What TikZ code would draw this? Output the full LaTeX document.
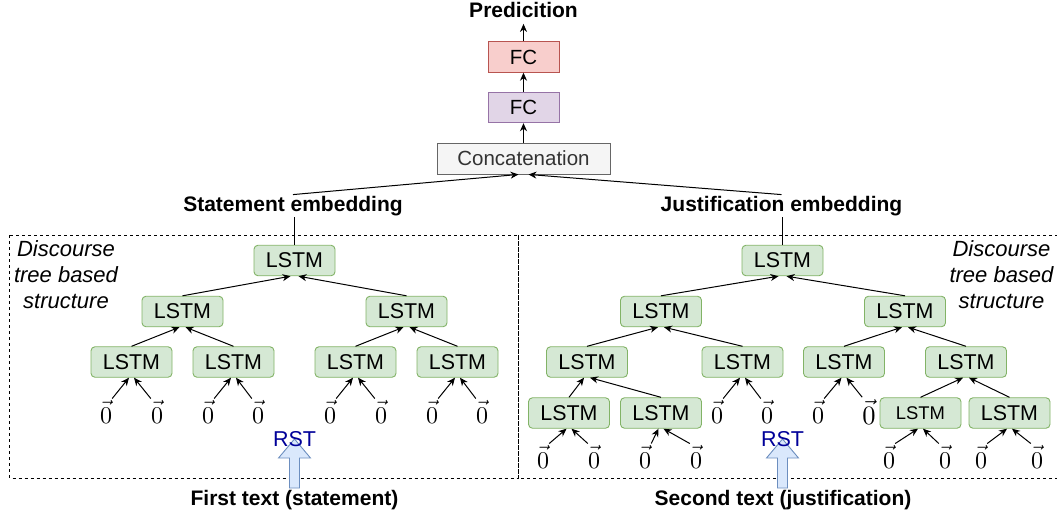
\documentclass[tikz,border=0pt]{standalone}
\usepackage{graphicx}
\usepackage[no-math]{fontspec}
\setmainfont{Liberation Sans}
\usetikzlibrary{arrows.meta}
\definecolor{lstmfill}{HTML}{D5E8D4}
\definecolor{lstmdraw}{HTML}{82B366}
\definecolor{redfill}{HTML}{F8CECC}
\definecolor{reddraw}{HTML}{B85450}
\definecolor{purfill}{HTML}{E1D5E7}
\definecolor{purdraw}{HTML}{9673A6}
\definecolor{catfill}{HTML}{F5F5F5}
\definecolor{catdraw}{HTML}{666666}
\definecolor{cattext}{HTML}{333333}
\definecolor{rstblue}{HTML}{000099}
\definecolor{arrfill}{HTML}{DAE8FC}
\definecolor{arrdraw}{HTML}{6C8EBF}
% zero vector at a given magnification of the 10pt math font
\newcommand\zerovec[1]{\scalebox{#1}{$\vec{0}$}}

\begin{document}
\begin{tikzpicture}[x=1pt,y=-1pt,
  lstm/.style={draw=lstmdraw, fill=lstmfill, line width=0.9pt, rounded corners=4pt,
    minimum width=81pt, minimum height=30.5pt, inner sep=0pt,
    font=\fontsize{21.4}{24}\selectfont},
  lstmsmall/.style={lstm, font=\fontsize{18.4}{22}\selectfont},
  fcbox/.style={line width=0.9pt, minimum width=71pt, minimum height=30.5pt, inner sep=0pt,
    font=\fontsize{20.5}{24}\selectfont},
  catbox/.style={fcbox, fill=catfill, draw=catdraw, text=cattext, minimum width=173pt, minimum height=31pt},
  leaf/.style={inner xsep=0pt, inner ysep=2pt, anchor=base, font=\normalsize},
  lbl/.style={inner sep=1pt, anchor=base, font=\bfseries\fontsize{21}{24}\selectfont},
  note/.style={align=center, inner sep=0pt, font=\itshape\fontsize{22}{26}\selectfont},
  rst/.style={anchor=base, inner sep=0pt, text=rstblue, font=\fontsize{21.5}{24}\selectfont},
  link/.style={line width=1pt, -{Stealth[length=8pt,width=7pt,inset=2.5pt]}},
  stem/.style={line width=1pt},
  region/.style={dash pattern=on 3pt off 3pt, line width=0.8pt},
  blockarrow/.style={fill=arrfill, draw=arrdraw, line width=0.9pt}
]
\useasboundingbox (0,0) rectangle (1057,517);
\clip (0,0) rectangle (1057,517);

% dashed regions around the two discourse trees
\draw[region] (9.5,235) rectangle (518,478);
\draw[region] (518,235) rectangle (1070,478);

% head of the network
\node[lbl] (pred) at (523.5,17.5) {Predicition};
\node[fcbox, fill=redfill, draw=reddraw] (fc2) at (523.5,57) {FC};
\node[fcbox, fill=purfill, draw=purdraw] (fc1) at (523.5,107.5) {FC};
\node[catbox] (cat) at (523.5,158.5) {Concatenation};
\node[lbl] (semb) at (293,211) {Statement embedding};
\node[lbl] (jemb) at (781.5,211) {Justification embedding};

% side notes
\node[note] (noteL) at (66,275) {Discourse\\tree based\\structure};
\node[note] (noteR) at (1001.5,275) {Discourse\\tree based\\structure};

% statement tree
\node[lstm] (rL)  at (294.5,260.5) {LSTM};
\node[lstm] (aL)  at (182.5,311.5) {LSTM};
\node[lstm] (bL)  at (406.5,311.5) {LSTM};
\node[lstm] (aaL) at (131.5,362) {LSTM};
\node[lstm] (abL) at (233.5,362) {LSTM};
\node[lstm] (baL) at (355.5,362) {LSTM};
\node[lstm] (bbL) at (457.5,362) {LSTM};

% justification tree
\node[lstm] (rR)   at (782.5,260.5) {LSTM};
\node[lstm] (aR)   at (661,311.5) {LSTM};
\node[lstm] (bR)   at (905,311.5) {LSTM};
\node[lstm] (aaR)  at (587,362) {LSTM};
\node[lstm] (abR)  at (742.5,362) {LSTM};
\node[lstm] (baR)  at (844,362) {LSTM};
\node[lstm] (bbR)  at (966,362) {LSTM};
\node[lstm] (aaaR) at (569,413) {LSTM};
\node[lstm] (aabR) at (661,413) {LSTM};
\node[lstmsmall] (bbaR) at (920.5,413) {LSTM};
\node[lstm] (bbbR) at (1009.5,413) {LSTM};

% zero-vector leaves
\foreach \n/\x in {l1/106,l2/157,l3/208,l4/258,l5/330,l6/381,l7/432,l8/482,
                   r1/717,r2/767,r3/818}
  \node[leaf] (\n) at (\x,423) {\zerovec{2.4}};
\node[leaf] (r4) at (869,424) {\zerovec{2.65}};
\foreach \n/\x in {r5/543,r6/594,r7/645,r8/696,r9/889,r10/945,r11/981,r12/1037}
  \node[leaf] (\n) at (\x,468) {\zerovec{2.4}};

% tree connectors
\foreach \p/\c/\d/\s in {rL/aL/bL/4,aL/aaL/abL/3,bL/baL/bbL/3,
                         rR/aR/bR/4,aR/aaR/abR/3,bR/baR/bbR/3,aaR/aaaR/aabR/3,bbR/bbaR/bbbR/3}{
  \draw[link] (\c.north) -- ([xshift=-\s pt]\p.south);
  \draw[link] (\d.north) -- ([xshift=\s pt]\p.south);
}
\foreach \p/\c/\d in {aaL/l1/l2,abL/l3/l4,baL/l5/l6,bbL/l7/l8,
                      abR/r1/r2,baR/r3/r4,aaaR/r5/r6,aabR/r7/r8,bbaR/r9/r10,bbbR/r11/r12}{
  \draw[link] (\c.north east) -- ([xshift=-2.5pt]\p.south);
  \draw[link] (\d.north west) -- ([xshift=2.5pt]\p.south);
}

% embeddings up to the classifier
\draw[stem] (rL.north) -- (rL.north |- semb.south);
\draw[stem] (rR.north) -- (rR.north |- jemb.south);
\draw[link] (semb.north) -- ([xshift=-5pt]cat.south);
\draw[link] (jemb.north) -- ([xshift=5pt]cat.south);
\draw[link] (cat.north) -- (fc1.south);
\draw[link] (fc1.north) -- (fc2.south);
\draw[link] (fc2.north) -- ([yshift=-5pt]pred.south);

% RST input arrows
\foreach \cx in {294.5,782.5}
  \draw[blockarrow] (\cx,439) -- ++(16,19) -- ++(-11,0) -- ++(0,30) -- ++(-10,0)
    -- ++(0,-30) -- ++(-11,0) -- cycle;
\node[rst] (rstL) at (294.5,446) {RST};
\node[rst] (rstR) at (782.5,446) {RST};

\node[lbl] (txtL) at (294.5,505) {First text (statement)};
\node[lbl] (txtR) at (783,505) {Second text (justification)};
\end{tikzpicture}
\end{document}
